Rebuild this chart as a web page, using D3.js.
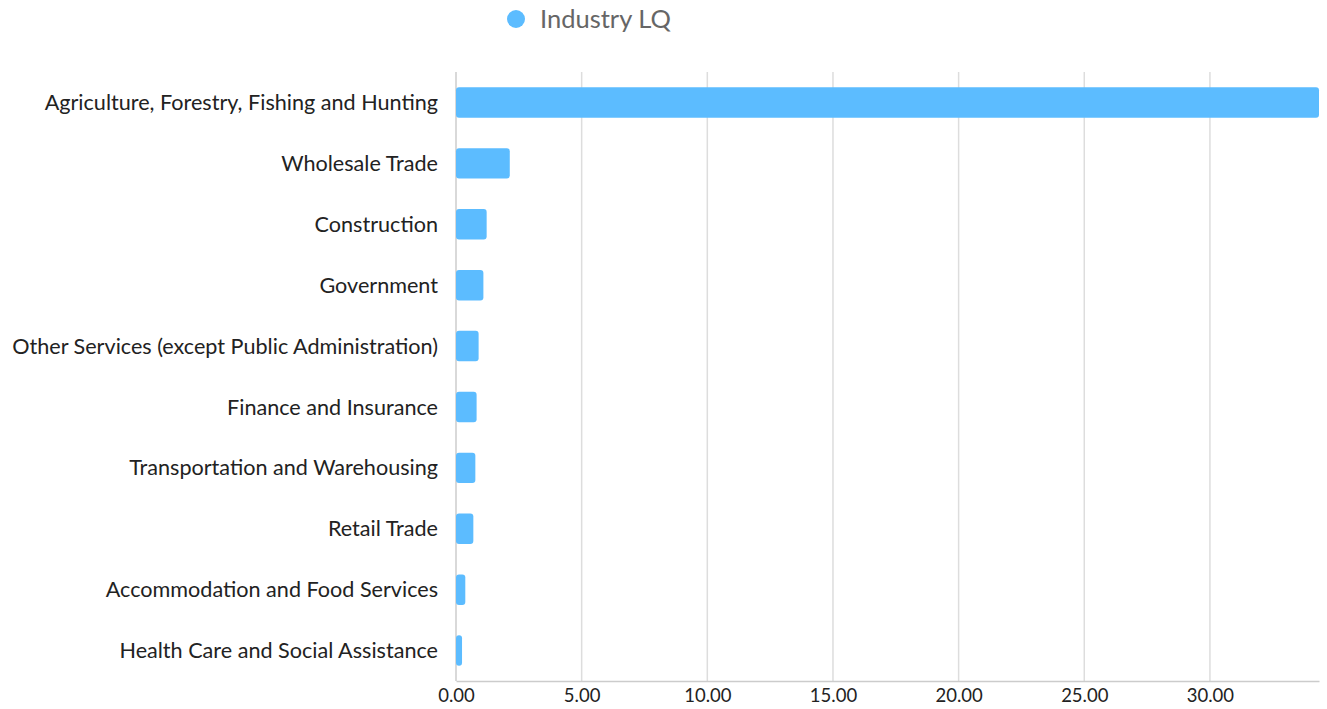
<!DOCTYPE html>
<html>
<head>
<meta charset="utf-8">
<script src="https://cdn.jsdelivr.net/npm/d3@7"></script>
<style>
  html, body { margin: 0; padding: 0; background: #fff; }
  #chart { width: 1327px; height: 709px; }
</style>
</head>
<body>
<div id="chart"></div>
<script>
// Industry location quotients
const industries = [
    "Agriculture, Forestry, Fishing and Hunting",
    "Wholesale Trade",
    "Construction",
    "Government",
    "Other Services (except Public Administration)",
    "Finance and Insurance",
    "Transportation and Warehousing",
    "Retail Trade",
    "Accommodation and Food Services",
    "Health Care and Social Assistance"
];
const lqValues = [34.34, 2.14, 1.22, 1.09, 0.90, 0.82, 0.77, 0.69, 0.37, 0.24];
const xTicks = [0, 5, 10, 15, 20, 25, 30];
const seriesName = "Industry LQ";

const width = 1327, height = 709;
const margin = { top: 72, right: 8, bottom: 28, left: 456 };
const barColor = "#5cbcff";
const font = "Lato, 'Open Sans', sans-serif";

const svg = d3.select("#chart").append("svg")
    .attr("width", width)
    .attr("height", height)
    .style("font-family", font);

const x = d3.scaleLinear()
    .domain([0, d3.max(lqValues)])
    .range([margin.left, width - margin.right]);

const y = d3.scaleBand()
    .domain(industries)
    .range([margin.top, height - margin.bottom])
    .paddingInner(0.5)
    .paddingOuter(0.25);

// Vertical grid lines
svg.append("g")
    .selectAll("line")
    .data(xTicks.slice(1))
    .join("line")
    .attr("x1", d => x(d)).attr("x2", d => x(d))
    .attr("y1", margin.top).attr("y2", height - margin.bottom)
    .attr("stroke", "#dddddd")
    .attr("stroke-width", 1.5);

// Baseline (left axis line)
svg.append("line")
    .attr("x1", x(0)).attr("x2", x(0))
    .attr("y1", margin.top).attr("y2", height - margin.bottom)
    .attr("stroke", "#cccccc")
    .attr("stroke-width", 1.5);

// Bars
svg.append("g")
    .selectAll("rect")
    .data(industries)
    .join("rect")
    .attr("x", x(0))
    .attr("y", d => y(d))
    .attr("width", (d, i) => x(lqValues[i]) - x(0))
    .attr("height", y.bandwidth())
    .attr("rx", 3)
    .attr("fill", barColor);

// Bottom axis
const xAxis = svg.append("g")
    .attr("transform", `translate(0,${height - margin.bottom})`)
    .call(d3.axisBottom(x).tickValues(xTicks).tickFormat(d3.format(".2f")).tickSize(0).tickPadding(8));
xAxis.select(".domain").attr("stroke", "#cccccc").attr("stroke-width", 1.5);
xAxis.selectAll("text")
    .style("font-family", font)
    .style("font-size", "18.5px")
    .attr("fill", "#222");

// Category labels
svg.append("g")
    .selectAll("text")
    .data(industries)
    .join("text")
    .attr("x", margin.left - 18)
    .attr("y", d => y(d) + y.bandwidth() / 2)
    .attr("dy", "0.35em")
    .attr("text-anchor", "end")
    .style("font-size", "21.6px")
    .attr("fill", "#222")
    .text(d => d);

// Legend
const legend = svg.append("g").attr("transform", "translate(516,19)");
legend.append("circle").attr("r", 9).attr("fill", barColor);
legend.append("text")
    .attr("x", 24)
    .attr("dy", "0.35em")
    .style("font-size", "25.5px")
    .attr("fill", "#666")
    .text(seriesName);
</script>
</body>
</html>
